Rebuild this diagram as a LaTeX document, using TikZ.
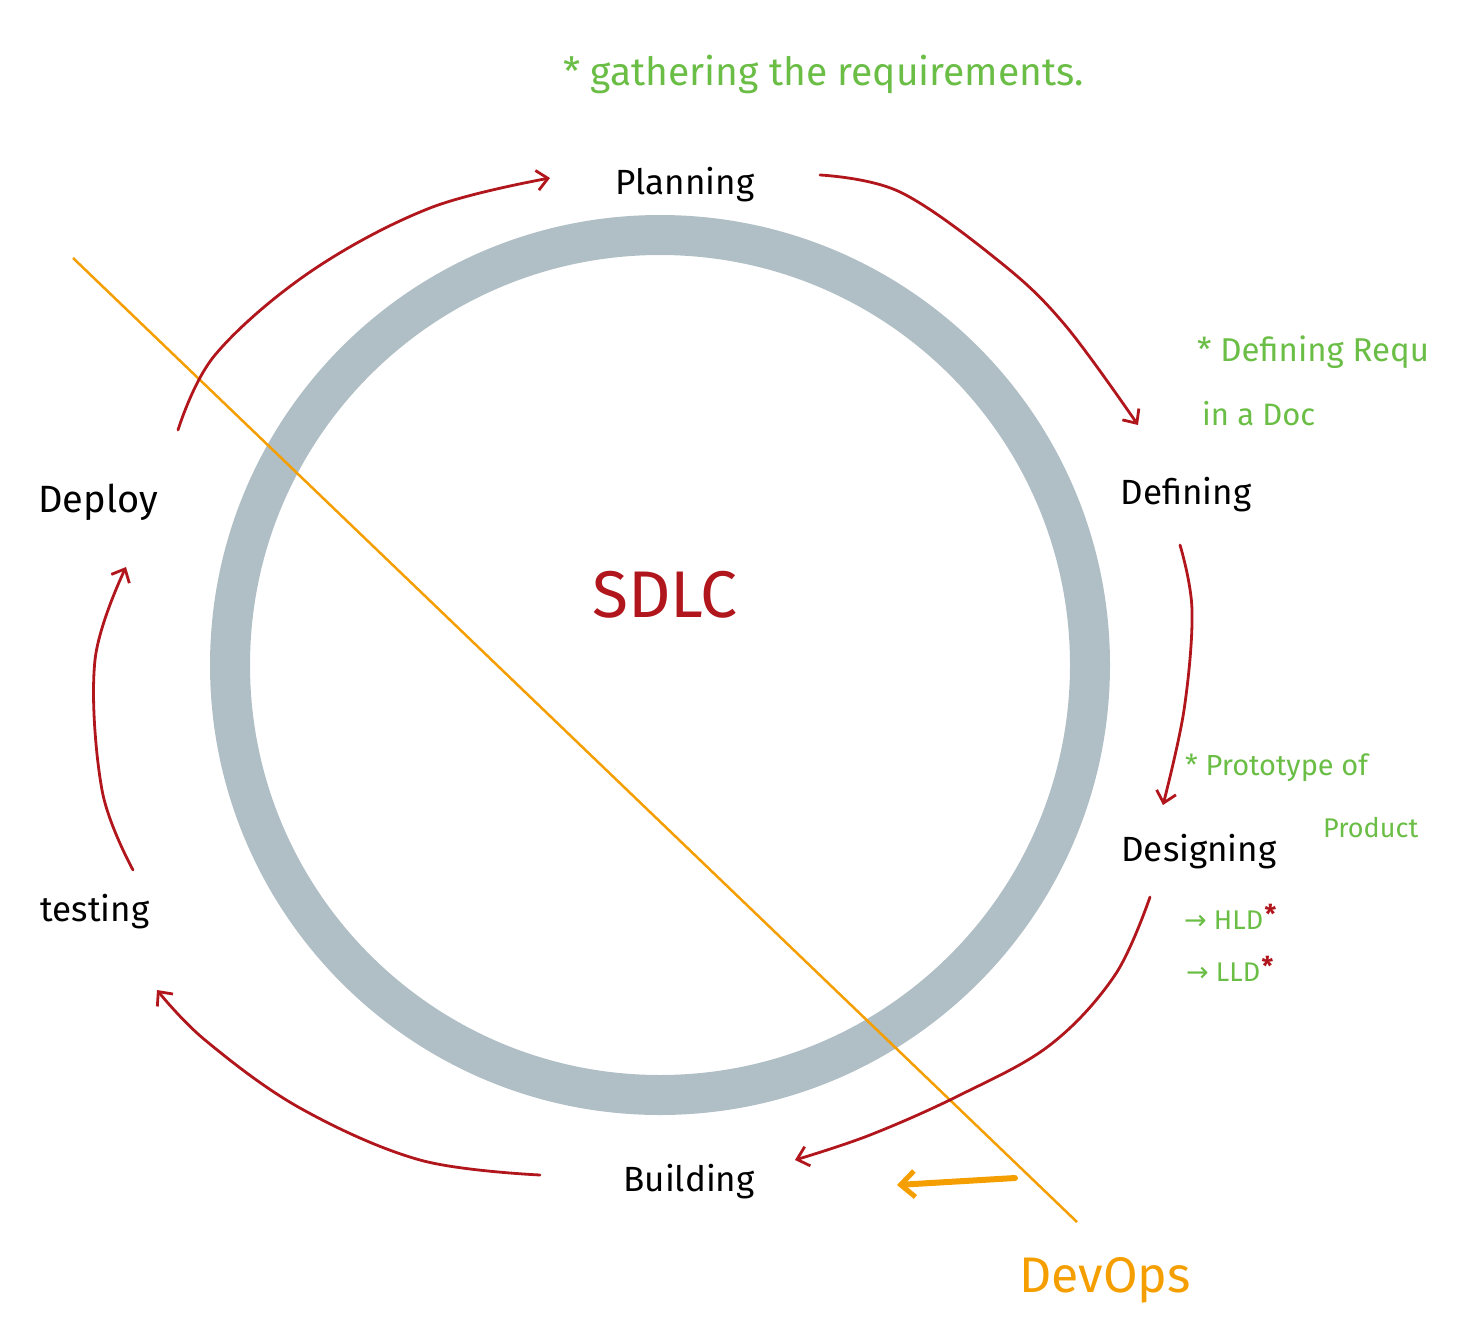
\documentclass[tikz,border=0pt]{standalone}
\usepackage{fontspec}
\setmainfont{Fira Sans}
\newfontfamily\symfont{DejaVu Sans}
\usetikzlibrary{arrows.meta}
\definecolor{ringgray}{HTML}{B0BEC5}
\definecolor{hred}{HTML}{B0161C}
\definecolor{hgreen}{HTML}{6ABD45}
\definecolor{horange}{HTML}{F59E00}
\begin{document}
\begin{tikzpicture}[x=1pt,y=-1pt,
  stage/.style={font=\fontsize{35}{40}\selectfont, text=black, inner sep=2pt},
  note/.style={text=hgreen, inner sep=1pt, anchor=west},
  cyc/.style={draw=hred, line width=2.8pt, line cap=round, line join=round,
    -{Straight Barb[length=11pt,width=20pt,line width=2.8pt]}},
  star/.style={text=hred, font=\fontsize{26}{26}\selectfont\bfseries, inner sep=0pt}]
\useasboundingbox (0,0) rectangle (1463,1330);
% ring
\node (centre) at (660,665) {};
\draw[ringgray, line width=40pt] (centre.center) circle[radius=430pt];
\node[text=hred, font=\fontsize{66}{72}\selectfont] (sdlc) at (665,595) {SDLC};
% stages
\node[stage] (plan) at (685,185) {Planning};
\node[stage] (def) at (1186,495) {Defining};
\node[stage] (des) at (1199,852) {Designing};
\node[stage] (build) at (689,1182) {Building};
\node[stage] (test) at (95,912) {testing};
\node[stage, font=\fontsize{38}{42}\selectfont] (dep) at (98,502) {Deploy};
% notes
\node[note, font=\fontsize{39}{44}\selectfont] (gath) at (562,74) {* gathering the requirements.};
\node[note, font=\fontsize{33}{38}\selectfont] (dreq) at (1196,352) {* Defining Requ};
\node[note, font=\fontsize{31}{36}\selectfont] (doc) at (1201,414) {in a Doc};
\node[note, font=\fontsize{29}{34}\selectfont] (proto) at (1184,768) {* Prototype of};
\node[note, font=\fontsize{27}{32}\selectfont] (prod) at (1322,828) {Product};
\node[note, font=\fontsize{27}{32}\selectfont] (hld) at (1183,920) {{\symfont →} HLD};
\node[star, anchor=west] (hs) at ([yshift=-4pt]hld.north east) {*};
\node[note, font=\fontsize{27}{32}\selectfont] (lld) at (1185,972) {{\symfont →} LLD};
\node[star, anchor=west] (ls) at ([yshift=-4pt]lld.north east) {*};
% devops
\node[text=horange, font=\fontsize{50}{56}\selectfont] (devops) at (1105,1280) {DevOps};
\coordinate (oa) at (73,258);
\coordinate (ob) at (1077,1222);
\draw[horange, line width=2.5pt] (oa) -- (ob);
\coordinate (da) at (1015,1178);
\coordinate (db) at (897,1185);
\draw[horange, line width=6pt, line cap=round, -{Straight Barb[length=14pt,width=26pt,line width=5pt]}] (da) -- (db);
% cycle connectors
\coordinate (p1) at (178,430); \coordinate (p2) at (550,178);
\draw[cyc] plot[smooth, tension=0.6] coordinates {(p1) (215,355) (310,272) (430,208) (550,178)};
\coordinate (q1) at (820,175); \coordinate (q2) at (1138,425);
\draw[cyc] plot[smooth, tension=0.6] coordinates {(q1) (900,192) (1000,262) (1065,325) (q2)};
\coordinate (r1) at (1180,545); \coordinate (r2) at (1163,805);
\draw[cyc] plot[smooth, tension=0.6] coordinates {(r1) (1192,610) (1184,710) (r2)};
\coordinate (s1) at (1150,897); \coordinate (s2) at (795,1160);
\draw[cyc] plot[smooth, tension=0.6] coordinates {(s1) (1115,975) (1050,1045) (960,1095) (870,1135) (s2)};
\coordinate (t1) at (540,1175); \coordinate (t2) at (157,990);
\draw[cyc] plot[smooth, tension=0.6] coordinates {(t1) (420,1160) (300,1108) (205,1040) (t2)};
\coordinate (u1) at (133,870); \coordinate (u2) at (126,567);
\draw[cyc] plot[smooth, tension=0.6] coordinates {(u1) (102,790) (95,660) (u2)};
\end{tikzpicture}
\end{document}
